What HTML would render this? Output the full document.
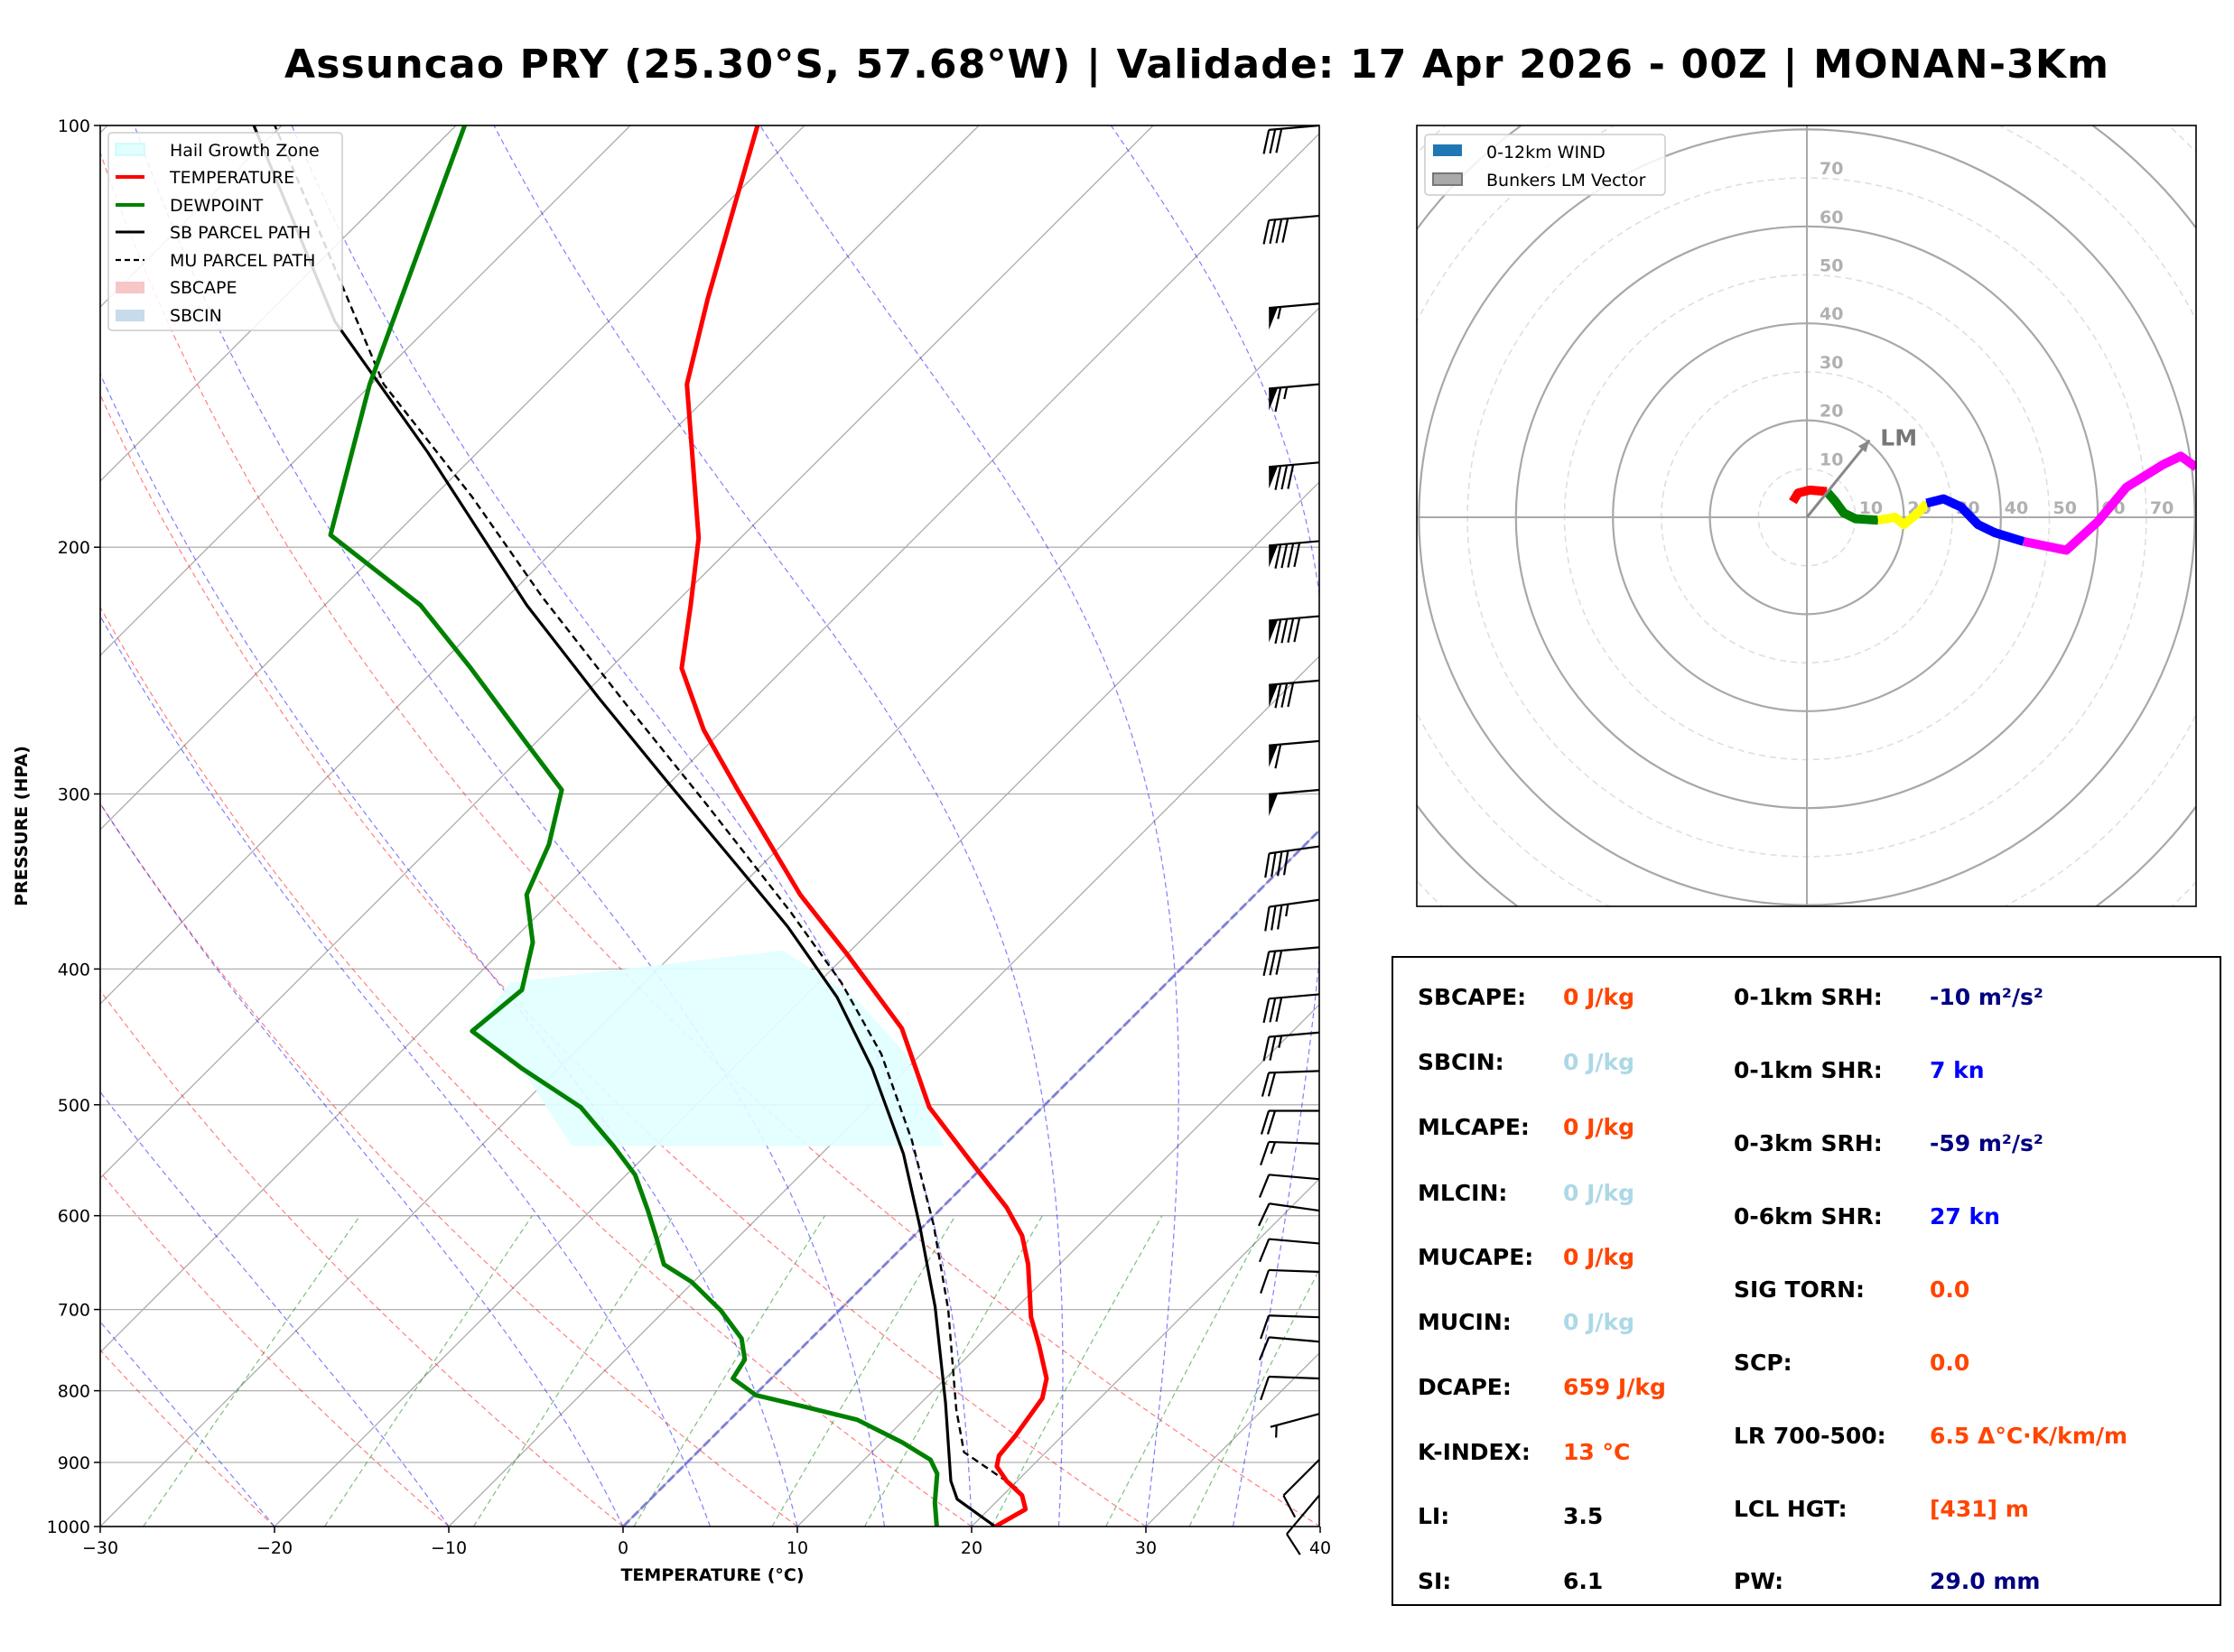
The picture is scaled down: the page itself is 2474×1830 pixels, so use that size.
<!DOCTYPE html>
<html><head><meta charset="utf-8"><style>
html,body{margin:0;padding:0;background:#fff}
svg{display:block}
text{font-family:"DejaVu Sans","Liberation Sans",sans-serif}
</style></head><body>
<svg id="fig" xmlns="http://www.w3.org/2000/svg" width="2474" height="1830" viewBox="0 0 2474 1830">
<defs>
<clipPath id="skewclip"><rect x="111" y="139" width="1350" height="1552"/></clipPath>
<clipPath id="hodoclip"><rect x="1569" y="139" width="863" height="865"/></clipPath>
</defs>
<rect width="2474" height="1830" fill="#fff"/>
<text x="1325" y="86" font-size="44" font-weight="bold" text-anchor="middle" textLength="2020">Assuncao PRY (25.30°S, 57.68°W) | Validade: 17 Apr 2026 - 00Z | MONAN-3Km</text>
<g id="skew" clip-path="url(#skewclip)"></g>
<g id="skewover"></g>
<rect x="111" y="139" width="1350" height="1552" fill="none" stroke="#000" stroke-width="1.6"/>
<g id="skewaxes"></g>
<text x="789" y="1751" font-size="19" font-weight="bold" text-anchor="middle">TEMPERATURE (°C)</text>
<text x="30" y="915" font-size="19" font-weight="bold" text-anchor="middle" transform="rotate(-90 30 915)">PRESSURE (HPA)</text>
<g>
<rect x="120" y="147" width="259" height="219" fill="#fff" fill-opacity="0.85" stroke="#ccc" stroke-width="1.5" rx="4"/>
<rect x="128" y="159" width="32" height="13" fill="#e0ffff" stroke="#b8f4f4"/>
<text x="188" y="173" font-size="19">Hail Growth Zone</text>
<line x1="128" y1="196" x2="160" y2="196" stroke="#f00" stroke-width="4"/>
<text x="188" y="203" font-size="19">TEMPERATURE</text>
<line x1="128" y1="227" x2="160" y2="227" stroke="#008000" stroke-width="4"/>
<text x="188" y="234" font-size="19">DEWPOINT</text>
<line x1="128" y1="257" x2="160" y2="257" stroke="#000" stroke-width="3"/>
<text x="188" y="264" font-size="19">SB PARCEL PATH</text>
<line x1="128" y1="288" x2="160" y2="288" stroke="#000" stroke-width="2.2" stroke-dasharray="6 4"/>
<text x="188" y="295" font-size="19">MU PARCEL PATH</text>
<rect x="128" y="312" width="32" height="13" fill="#f7c6c6"/>
<text x="188" y="325" font-size="19">SBCAPE</text>
<rect x="128" y="343" width="32" height="13" fill="#c6dbec"/>
<text x="188" y="356" font-size="19">SBCIN</text>
</g>
<g id="hodo" clip-path="url(#hodoclip)"></g>
<rect x="1569" y="139" width="863" height="865" fill="none" stroke="#000" stroke-width="1.6"/>
<g>
<rect x="1578" y="149" width="266" height="67" fill="#fff" fill-opacity="0.85" stroke="#ccc" stroke-width="1.5" rx="4"/>
<rect x="1587" y="160" width="32" height="13" fill="#1f77b4"/>
<text x="1646" y="175" font-size="19">0-12km WIND</text>
<rect x="1587" y="192" width="32" height="13" fill="#aaa" stroke="#777" stroke-width="2"/>
<text x="1646" y="206" font-size="19">Bunkers LM Vector</text>
</g>
<g font-size="25" font-weight="bold">
<rect x="1542" y="1060" width="917" height="718" fill="#fff" stroke="#000" stroke-width="2"/>
<text x="1570" y="1113">SBCAPE:</text><text x="1731" y="1113" fill="#ff4500">0 J/kg</text>
<text x="1570" y="1185">SBCIN:</text><text x="1731" y="1185" fill="#add8e6">0 J/kg</text>
<text x="1570" y="1257">MLCAPE:</text><text x="1731" y="1257" fill="#ff4500">0 J/kg</text>
<text x="1570" y="1330">MLCIN:</text><text x="1731" y="1330" fill="#add8e6">0 J/kg</text>
<text x="1570" y="1401">MUCAPE:</text><text x="1731" y="1401" fill="#ff4500">0 J/kg</text>
<text x="1570" y="1473">MUCIN:</text><text x="1731" y="1473" fill="#add8e6">0 J/kg</text>
<text x="1570" y="1545">DCAPE:</text><text x="1731" y="1545" fill="#ff4500">659 J/kg</text>
<text x="1570" y="1617">K-INDEX:</text><text x="1731" y="1617" fill="#ff4500">13 °C</text>
<text x="1570" y="1688">LI:</text><text x="1731" y="1688">3.5</text>
<text x="1570" y="1760">SI:</text><text x="1731" y="1760">6.1</text>
<text x="1920" y="1113">0-1km SRH:</text><text x="2137" y="1113" fill="#000080">-10 m²/s²</text>
<text x="1920" y="1194">0-1km SHR:</text><text x="2137" y="1194" fill="#0000ff">7 kn</text>
<text x="1920" y="1275">0-3km SRH:</text><text x="2137" y="1275" fill="#000080">-59 m²/s²</text>
<text x="1920" y="1356">0-6km SHR:</text><text x="2137" y="1356" fill="#0000ff">27 kn</text>
<text x="1920" y="1437">SIG TORN:</text><text x="2137" y="1437" fill="#ff4500">0.0</text>
<text x="1920" y="1518">SCP:</text><text x="2137" y="1518" fill="#ff4500">0.0</text>
<text x="1920" y="1599">LR 700-500:</text><text x="2137" y="1599" fill="#ff4500">6.5 Δ°C·K/km/m</text>
<text x="1920" y="1680">LCL HGT:</text><text x="2137" y="1680" fill="#ff4500">[431] m</text>
<text x="1920" y="1760">PW:</text><text x="2137" y="1760" fill="#000080">29.0 mm</text>
</g>
</svg>
<script>
// ---- Skew-T data ----
const tempP = [1000,972,950,928,906,890,861,810,784,743,709,650,620,592,548,502,441,391,354,298,270,244,220,197,153,133,100];
const tempT = [21.35,22.1,21.1,19.4,18.0,17.5,17.3,16.7,15.8,13.5,11.4,8.2,6.2,3.7,-1.1,-6.5,-12.6,-19.9,-26.1,-35.7,-41.1,-45.9,-49.0,-52.4,-61.9,-65.6,-72.7];
const dewP = [1000,961,917,896,871,839,822,806,784,760,734,701,669,650,623,595,561,535,502,471,443,414,383,354,326,298,276,244,220,196,153,100];
const dewT = [18.0,16.5,15.0,13.8,11.2,7.3,3.7,0.1,-2.2,-2.6,-4.0,-6.8,-10.1,-12.7,-14.6,-16.7,-19.5,-22.4,-26.5,-32.1,-37.1,-36.6,-38.7,-41.8,-43.4,-45.8,-50.5,-58.0,-64.5,-73.7,-80.1,-89.5];
const sbP = [1000,956,928,816,697,612,542,471,419,373,339,295,256,220,171,138,100];
const sbT = [21.35,17.6,16.2,11.4,5.3,-0.1,-5.3,-12.0,-18.1,-25.0,-31.1,-40.0,-49.0,-58.4,-72.9,-85.7,-101.6];
const muP = [939,885,825,700,609,530,460,409,364,305,259,217,184,153,100];
const muT = [20.4,15.3,12.4,6.2,0.5,-5.6,-12.3,-18.7,-25.7,-36.7,-47.0,-58.0,-67.8,-79.3,-100.4];
const hailP = [409,388,419,460,535,535,471,443];
const hailT = [-37.7,-23.9,-17.1,-10.9,-3.4,-24.8,-32.1,-37.1];
const pTicks = [100,200,300,400,500,600,700,800,900,1000];
const tTicks = [-30,-20,-10,0,10,20,30,40];
const barbP = [100,116,134,153,174,198,224,249,275,298,327,357,386,417,444,473,505,533,565,595,628,658,709,738,784,831,896,950];
const barbSpd = [30,40,55,65,80,90,90,80,60,50,40,35,30,30,25,20,20,15,10,10,10,10,10,10,10,5,10,10];
const barbDir = [265,265,265,265,265,265,265,265,265,265,262,262,265,265,265,268,270,272,275,278,275,272,272,275,272,255,225,220];
// ---- Hodograph data (kt) ----
const hodoRedU = [-2.9,-1.8,0.6,4.1], hodoRedV = [3.2,5.0,5.6,5.3];
const hodoGreenU = [4.1,5.9,7.6,10,14.7], hodoGreenV = [5.3,3.2,0.9,-0.3,-0.6];
const hodoYellowU = [14.7,18.2,20,22.9,24.7], hodoYellowV = [-0.6,0,-1.5,0.9,2.9];
const hodoBlueU = [24.7,28.2,31.8,35.3,38.8,44.7], hodoBlueV = [2.9,3.8,2.1,-1.5,-3.2,-5];
const hodoMagU = [44.7,53.5,60,65.9,73.5,77.1,80.3], hodoMagV = [-5,-6.8,-0.9,6.2,10.9,12.6,10.3];
const lmU = [12.9], lmV = [15.9];
const ringKt = [10,20,30,40,50,60,70,80,90,100,110];
const ringLabels = [10,20,30,40,50,60,70];

const NS='http://www.w3.org/2000/svg';
const L=111,R=1461,T=139,B=1691;
function yP(p){return B-1552*Math.log10(1000/p);}
function xT(t,p){return L+(t+30)*19.3+(B-yP(p));}
function mk(tag,attrs,parent){const e=document.createElementNS(NS,tag);for(const k in attrs)e.setAttribute(k,attrs[k]);parent.appendChild(e);return e;}
function pathTP(ts,ps){return ts.map((t,i)=>(i?'L':'M')+xT(t,ps[i]).toFixed(1)+' '+yP(ps[i]).toFixed(1)).join(' ');}
const skew=document.getElementById('skew');
const axes=document.getElementById('skewaxes');

pTicks.forEach(p=>{
  const l=mk('line',{x1:L,x2:R,y1:yP(p),y2:yP(p),stroke:'#b0b0b0','stroke-width':1.3},skew);
  
  
});
for(let t=-140;t<=40;t+=10){
  const l=mk('line',{x1:xT(t,1000),y1:B,x2:xT(t,100),y2:T,stroke:'#aaa','stroke-width':1.3},skew);
  
  
}
for(let th=-30;th<=40;th+=10){
  const ts=[],ps=[];
  for(let p=1000;p>=100;p-=10){ps.push(p);ts.push((th+273.15)*Math.pow(p/1000,0.2857)-273.15);}
  const e=mk('path',{d:pathTP(ts,ps),fill:'none',stroke:'#ff0000','stroke-opacity':0.5,'stroke-width':1.2,'stroke-dasharray':'6 4'},skew);
  
  
}
function dTdp(p,Tk){const es=6.112*Math.exp(17.67*(Tk-273.15)/(Tk-29.65));const rs=0.622*es/(p-es);
  const num=287*Tk+2.5e6*rs;const den=1004+2.5e6*2.5e6*rs*0.622/(287*Tk*Tk);return num/den/p;}
[-20,-10,0,5,10,15,20,25,30,35].forEach(t0=>{
  let Tk=t0+273.15;const ts=[t0],ps=[1000];
  for(let p=1000;p>100;p-=5){const k1=dTdp(p,Tk);const k2=dTdp(p-2.5,Tk-2.5*k1);Tk-=5*k2;ps.push(p-5);ts.push(Tk-273.15);}
  const e=mk('path',{d:pathTP(ts,ps),fill:'none',stroke:'#0000ff','stroke-opacity':0.5,'stroke-width':1.2,'stroke-dasharray':'6 4'},skew);
  
  
});
[0.0004,0.001,0.002,0.004,0.007,0.01,0.016,0.024,0.032].forEach(w=>{
  const ts=[],ps=[];
  for(let p=1000;p>=600;p-=20){const e=p*w/(0.622+w);const lg=Math.log(e/6.112);ps.push(p);ts.push(243.5*lg/(17.67-lg));}
  const e=mk('path',{d:pathTP(ts,ps),fill:'none',stroke:'#008000','stroke-opacity':0.5,'stroke-width':1.2,'stroke-dasharray':'6 4'},skew);
  
  
});
const z=mk('line',{x1:xT(0,1000),y1:B,x2:xT(0,100),y2:T,stroke:'#6060e0','stroke-opacity':0.7,'stroke-width':3,'stroke-dasharray':'10 4'},skew);


const hz=mk('path',{d:pathTP(hailT,hailP)+'Z',fill:'#e0ffff','fill-opacity':0.9,stroke:'none'},skew);


const sb=mk('path',{d:pathTP(sbT,sbP),fill:'none',stroke:'#000','stroke-width':3.2},skew);


const mu=mk('path',{d:pathTP(muT,muP),fill:'none',stroke:'#000','stroke-width':2.4,'stroke-dasharray':'8 5'},skew);


const tl=mk('path',{d:pathTP(tempT,tempP),fill:'none',stroke:'#ff0000','stroke-width':5,'stroke-linejoin':'round'},skew);


const dl=mk('path',{d:pathTP(dewT,dewP),fill:'none',stroke:'#008000','stroke-width':5,'stroke-linejoin':'round'},skew);


pTicks.forEach(p=>{
  const y=yP(p);
  const tk=mk('line',{x1:L-7,x2:L,y1:y,y2:y,stroke:'#000','stroke-width':1.5},axes);
  
  
  const tx=mk('text',{x:L-11,y:y+7,'font-size':19,'text-anchor':'end'},axes);
  tx.textContent=p;
  
  
});
tTicks.forEach(t=>{
  const x=L+(t+30)*19.3;
  const tk=mk('line',{x1:x,x2:x,y1:B,y2:B+7,stroke:'#000','stroke-width':1.5},axes);
  
  
  const tx=mk('text',{x:x,y:B+30,'font-size':19,'text-anchor':'middle'},axes);
  tx.textContent=(t<0?'\u2212':'')+Math.abs(t);
  
  
});
const over=document.getElementById('skewover');
barbP.forEach((p,i)=>{
  const g=mk('g',{},over);
  
  
  const bx=R,by=yP(p),d=barbDir[i]*Math.PI/180;
  const sx=Math.sin(d),sy=-Math.cos(d);
  const Ls=56;
  const tx=bx+sx*Ls,ty=by+sy*Ls;
  mk('line',{x1:bx,y1:by,x2:tx,y2:ty,stroke:'#000','stroke-width':2.2},g);
  const nx=-sy,ny=sx;
  const side=(ny>0)?1:-1;
  const qx=nx*side,qy=ny*side;
  let spd=barbSpd[i],pos=0;
  while(spd>=50){
    const ax=tx-sx*pos,ay=ty-sy*pos,cx=tx-sx*(pos+10),cy=ty-sy*(pos+10);
    mk('polygon',{points:`${ax},${ay} ${cx},${cy} ${ax+qx*24+sx*2},${ay+qy*24+sy*2}`,fill:'#000'},g);
    pos+=13;spd-=50;
  }
  while(spd>=10){
    const ax=tx-sx*pos,ay=ty-sy*pos;
    mk('line',{x1:ax,y1:ay,x2:ax+qx*26+sx*8,y2:ay+qy*26+sy*8,stroke:'#000','stroke-width':2.2},g);
    pos+=7;spd-=10;
  }
  if(spd>=5){
    if(pos===0)pos=7;
    const ax=tx-sx*pos,ay=ty-sy*pos;
    mk('line',{x1:ax,y1:ay,x2:ax+qx*13+sx*4,y2:ay+qy*13+sy*4,stroke:'#000','stroke-width':2.2},g);
  }
});
const hodo=document.getElementById('hodo');
const HX=2001,HY=573,K=5.37;
function hx(u){return HX+u*K;}
function hy(v){return HY-v*K;}
ringKt.forEach(r=>{
  const solid=r%20===0;
  const c=mk('circle',{cx:HX,cy:HY,r:r*K,fill:'none',stroke:solid?'#a8a8a8':'#ddd','stroke-width':solid?2.2:1.5,'stroke-dasharray':solid?'none':'7 5'},hodo);
  
  
});
const ax1=mk('line',{x1:1569,x2:2432,y1:HY,y2:HY,stroke:'#a8a8a8','stroke-width':2},hodo);


const ax2=mk('line',{x1:HX,x2:HX,y1:139,y2:1004,stroke:'#a8a8a8','stroke-width':2},hodo);


ringLabels.forEach(r=>{
  const t=mk('text',{x:HX+14,y:hy(r)-4,'font-size':19,'font-weight':'bold',fill:'#b0b0b0'},hodo);
  t.textContent=r;
  
  
  const t2=mk('text',{x:hx(r)+4,y:HY-4,'font-size':19,'font-weight':'bold',fill:'#b0b0b0'},hodo);
  t2.textContent=r;
  
  
});
function hodoLine(us,vs,color,name){
  const d=us.map((u,i)=>(i?'L':'M')+hx(u).toFixed(1)+' '+hy(vs[i]).toFixed(1)).join(' ');
  const e=mk('path',{d:d,fill:'none',stroke:color,'stroke-width':10,'stroke-linejoin':'round'},hodo);
  
  
}
hodoLine(hodoRedU,hodoRedV,'#ff0000','hodo-segment-0-1km');
hodoLine(hodoGreenU,hodoGreenV,'#008000','hodo-segment-1-3km');
hodoLine(hodoYellowU,hodoYellowV,'#ffff00','hodo-segment-3-6km');
hodoLine(hodoBlueU,hodoBlueV,'#0000ff','hodo-segment-6-9km');
hodoLine(hodoMagU,hodoMagV,'#ff00ff','hodo-segment-9-12km');
const lx=hx(lmU[0]),ly=hy(lmV[0]);
const lm=mk('line',{x1:HX,y1:HY,x2:lx,y2:ly,stroke:'#888','stroke-width':3},hodo);


const ang=Math.atan2(ly-HY,lx-HX);
const ah=mk('polygon',{points:`${lx},${ly} ${lx-14*Math.cos(ang-0.4)},${ly-14*Math.sin(ang-0.4)} ${lx-14*Math.cos(ang+0.4)},${ly-14*Math.sin(ang+0.4)}`,fill:'#888'},hodo);


const lt=mk('text',{x:lx+12,y:ly+6,'font-size':25,'font-weight':'bold',fill:'#777'},hodo);
lt.textContent='LM';


</script>
</body></html>
